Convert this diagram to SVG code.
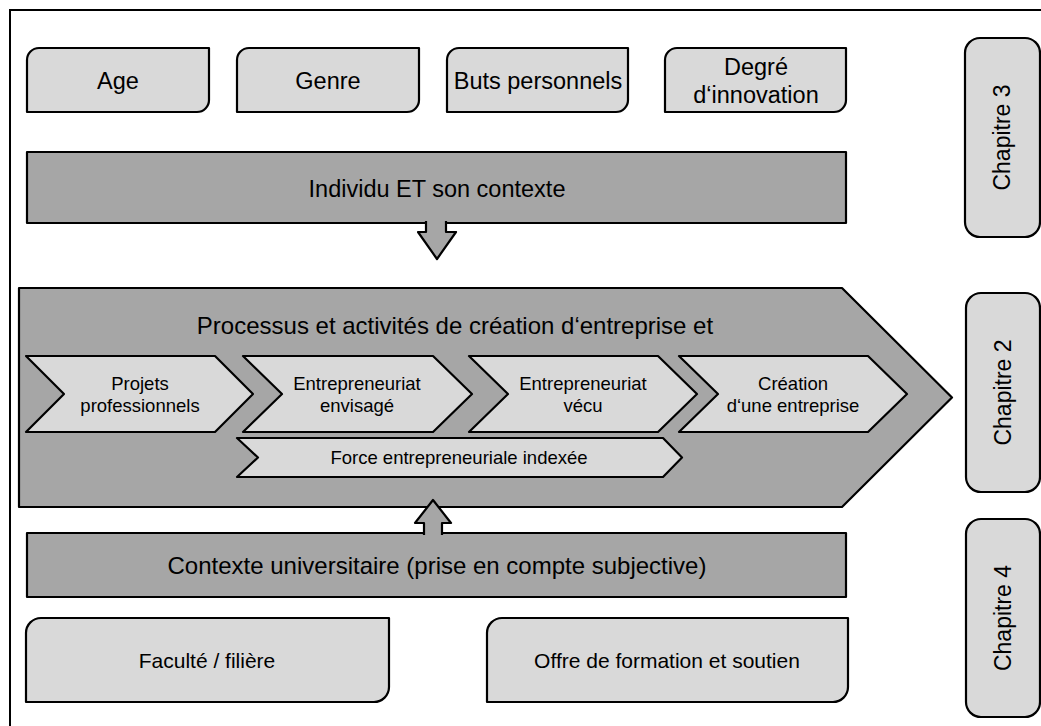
<svg xmlns="http://www.w3.org/2000/svg" width="1041" height="726" viewBox="0 0 1041 726">
<style>
.lt{fill:#d9d9d9;stroke:#000;stroke-width:2.2;stroke-linejoin:round}
.dk{fill:#a6a6a6;stroke:#000;stroke-width:2.2;stroke-linejoin:round}
text{font-family:"Liberation Sans",Arial,sans-serif;fill:#000;text-anchor:middle}
.big{font-size:23.5px}
.ttl{font-size:24px}
.mid{font-size:21px}
.sm{font-size:18.5px}
.ch{font-size:23px}
</style>
<rect width="1041" height="726" fill="#fff"/>
<path d="M10,726 V10 H1041" fill="none" stroke="#000" stroke-width="2"/>

<g id="age"><path class="lt" d="M39,48 H209 V100 A12,12 0 0 1 197,112 H27 V60 A12,12 0 0 1 39,48 Z"/><text class="big" x="118" y="89">Age</text></g>
<g id="genre"><path class="lt" d="M249,48 H419 V100 A12,12 0 0 1 407,112 H237 V60 A12,12 0 0 1 249,48 Z"/><text class="big" x="328" y="89">Genre</text></g>
<g id="buts"><path class="lt" d="M459,48 H628 V100 A12,12 0 0 1 616,112 H447 V60 A12,12 0 0 1 459,48 Z"/><text class="big" x="538" y="89">Buts personnels</text></g>
<g id="degre"><path class="lt" d="M677,48 H846 V100 A12,12 0 0 1 834,112 H665 V60 A12,12 0 0 1 677,48 Z"/><text class="big" x="756" y="75">Degré</text><text class="big" x="756" y="103">d‘innovation</text></g>

<g id="chap3"><rect class="lt" x="965" y="38" width="75" height="199" rx="15"/><text class="ch" transform="translate(1010,137.5) rotate(-90)">Chapitre 3</text></g>

<g id="individu"><rect class="dk" x="27" y="152" width="819" height="71"/><text class="big" x="437" y="197">Individu ET son contexte</text></g>

<g id="processus"><path class="dk" d="M19,288 H842 L952,397.5 L842,507 H19 Z"/><text class="ttl" x="455" y="334">Processus et activités de création d‘entreprise et</text></g>

<g id="projets"><path class="lt" d="M26,356 H215 L253,394 L215,432 H26 L64,394 Z"/><text class="sm" x="140" y="390">Projets</text><text class="sm" x="140" y="412">professionnels</text></g>
<g id="envisage"><path class="lt" d="M243,356 H433 L472,394 L433,432 H243 L282,394 Z"/><text class="sm" x="357" y="390">Entrepreneuriat</text><text class="sm" x="357" y="412">envisagé</text></g>
<g id="vecu"><path class="lt" d="M469,356 H658 L697,394 L658,432 H469 L508,394 Z"/><text class="sm" x="583" y="390">Entrepreneuriat</text><text class="sm" x="583" y="412">vécu</text></g>
<g id="creation"><path class="lt" d="M679,356 H868 L907,394 L868,432 H679 L718,394 Z"/><text class="sm" x="793" y="390">Création</text><text class="sm" x="793" y="412">d‘une entreprise</text></g>
<g id="force"><path class="lt" d="M237,438 H663 L682,457.5 L663,477 H237 L258,457.5 Z"/><text class="sm" x="459" y="464">Force entrepreneuriale indexée</text></g>

<g id="chap2"><rect class="lt" x="966" y="293" width="74" height="199" rx="15"/><text class="ch" transform="translate(1011,392.5) rotate(-90)">Chapitre 2</text></g>

<g id="contexte"><rect class="dk" x="27" y="533" width="819" height="64"/><text class="ttl" x="437" y="574">Contexte universitaire (prise en compte subjective)</text></g>

<g id="faculte"><path class="lt" d="M41,618 H389 V687 A15,15 0 0 1 374,702 H26 V633 A15,15 0 0 1 41,618 Z"/><text class="mid" x="207" y="668">Faculté / filière</text></g>
<g id="offre"><path class="lt" d="M502,618 H848 V687 A15,15 0 0 1 833,702 H487 V633 A15,15 0 0 1 502,618 Z"/><text class="mid" x="667" y="668">Offre de formation et soutien</text></g>

<g id="chap4"><rect class="lt" x="966" y="519" width="74" height="198" rx="15"/><text class="ch" transform="translate(1011,618) rotate(-90)">Chapitre 4</text></g>

<g id="connectors">
<path class="dk" d="M426,221 V232 H418 L437,259 L456,232 H446 V221"/>
<path class="dk" d="M424,535 V523 H415 L433,500 L451,523 H442 V535"/>
</g>
</svg>
